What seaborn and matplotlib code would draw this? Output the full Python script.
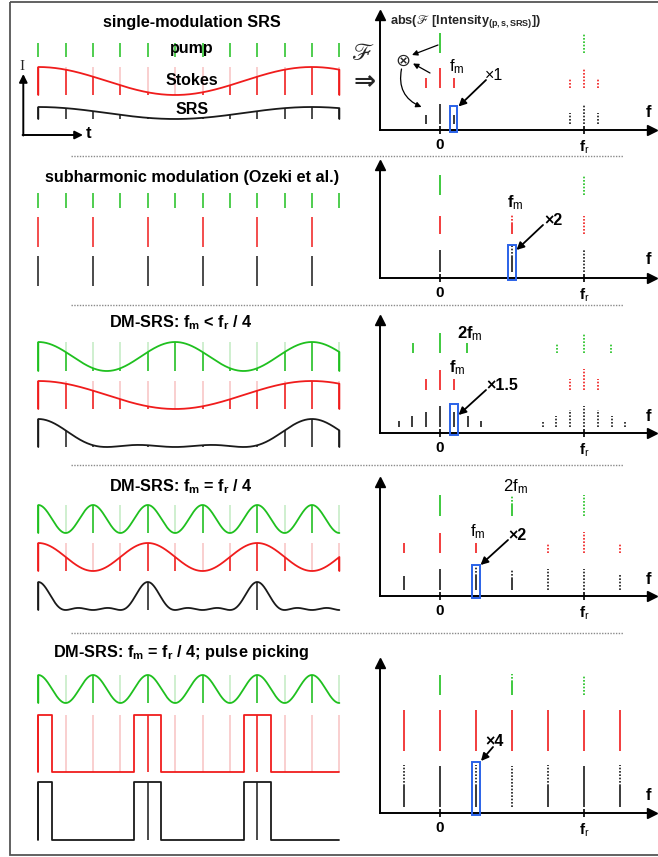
import numpy as np
import matplotlib
matplotlib.use("Agg")
import matplotlib.pyplot as plt
from matplotlib.patches import Rectangle
import seaborn as sns

sns.set_style("white")
plt.rcParams["font.family"] = ["Liberation Sans", "DejaVu Sans"]
plt.rcParams["mathtext.fontset"] = "custom"
plt.rcParams["mathtext.rm"] = "Liberation Sans"
plt.rcParams["mathtext.it"] = "Liberation Sans:italic"
plt.rcParams["mathtext.bf"] = "Liberation Sans:bold"
plt.rcParams["mathtext.fallback"] = "stix"
plt.rcParams["axes.facecolor"] = "none"

GREEN, RED, BLACK = "#1fc01f", "#f01c1c", "#1a1a1a"
GREEN_LIGHT, RED_LIGHT = "#c2ebc2", "#f8c2c2"
BLUE = "#2a62e8"

### time domain data (pulse index 0..11, envelope 0..1)
PULSES = [0, 1, 2, 3, 4, 5, 6, 7, 8, 9, 10, 11]
P2_STOKES_PULSES = [0, 2, 4, 6, 8, 10]
P1_STOKES_PERIOD = 10
P3_PUMP_PERIOD, P3_STOKES_PERIOD = 5, 10
P4_PUMP_PERIOD, P4_STOKES_PERIOD = 2, 4
P5_PUMP_PERIOD = 2
P5_PICK_WINDOWS = [(0, 0.5), (3.5, 4.5), (7.5, 8.5)]

### spectra: (frequency / f_r, solid height, dotted height)
P1_GREEN = [(0, 20, 0), (1, 0, 20)]
P1_RED = [(-0.095, 10, 0), (0, 20, 0), (0.095, 10, 0), (0.905, 0, 10), (1, 0, 20), (1.095, 0, 10)]
P1_BLACK = [(-0.095, 9, 0), (0, 20, 0), (0.095, 9, 0), (0.905, 0, 11), (1, 0, 20), (1.095, 0, 11)]

P2_GREEN = [(0, 20, 0), (1, 0, 20)]
P2_RED = [(0, 18, 0), (0.5, 10, 10), (1, 0, 18)]
P2_BLACK = [(0, 22, 0), (0.5, 15, 12), (1, 0, 22)]

P3_GREEN = [(-0.19, 10, 0), (0, 20, 0), (0.19, 10, 0), (0.81, 0, 10), (1, 0, 20), (1.19, 0, 10)]
P3_RED = [(-0.096, 11, 0), (0, 20, 0), (0.096, 11, 0), (0.904, 0, 11), (1, 0, 21), (1.096, 0, 11)]
P3_BLACK = [(-0.288, 6, 0), (-0.192, 11, 0), (-0.096, 15, 0), (0, 21, 0), (0.096, 15, 0),
            (0.192, 11, 0), (0.288, 6, 0),
            (0.712, 0, 5), (0.808, 0, 11), (0.904, 0, 17), (1, 0, 21), (1.096, 0, 17),
            (1.192, 0, 11), (1.288, 0, 6)]

P4_GREEN = [(0, 21, 0), (0.5, 11, 10), (1, 0, 21)]
P4_RED = [(-0.25, 10, 0), (0, 20, 0), (0.25, 10, 0), (0.75, 0, 10), (1, 0, 21), (1.25, 0, 10)]
P4_BLACK = [(-0.25, 14, 0), (0, 21, 0), (0.25, 14, 10), (0.5, 11, 10), (0.75, 0, 21),
            (1, 0, 21), (1.25, 0, 15)]

P5_GREEN = [(0, 20, 0), (0.5, 13, 8), (1, 0, 20)]
P5_RED = [(-0.25, 41, 0), (0, 41, 0), (0.25, 41, 0), (0.5, 41, 0), (0.75, 41, 0), (1, 41, 0), (1.25, 41, 0)]
P5_BLACK = [(-0.25, 21, 21), (0, 41, 0), (0.25, 21, 21), (0.5, 0, 41), (0.75, 21, 21),
            (1, 41, 0), (1.25, 21, 21)]

FM = [0.095, 0.5, 0.096, 0.25, 0.25]       # boxed line of each panel
BOX_TOP = [24, 33, 29, 31, 51]
GAIN = ["×1", "×2", "×1.5", "×2", "×4"]


W, H = 658, 857
fig = plt.figure(figsize=(W / 100, H / 100), dpi=100)


def px_axes(x0, y0, x1, y1):
    return fig.add_axes([x0 / W, 1 - y1 / H, (x1 - x0) / W, (y1 - y0) / H])


# pulse k sits at 38.3 + 27.37 k px
X_K0, X_K11 = 38.3, 38.3 + 11 * 27.37
T_GRID = np.linspace(0, 11, 800)


def raised_cos(period):
    return lambda k: 0.5 * (1 + np.cos(2 * np.pi * np.asarray(k, float) / period))


def picked(windows):
    def env(k):
        k = np.asarray(k, float)
        out = np.zeros_like(k)
        for a, b in windows:
            out[(k >= a) & (k <= b)] = 1.0
        return out
    return env


def product(f, g):
    return lambda k: f(k) * g(k)


def pulse_row(top, base, color, light=None, env=None, pulses=PULSES, windows=None):
    ax = px_axes(X_K0, top, X_K11, base)
    if env is None:
        ax.vlines(pulses, 0, 1, color=color, lw=1.1, clip_on=False)
    else:
        if light:
            ax.vlines(PULSES, 0, 1, color=light, lw=1.1, clip_on=False)
        ax.vlines(PULSES, 0, env(PULSES), color=color, lw=1.1, clip_on=False)
        if windows is None:
            x = np.r_[0, T_GRID, 11]
            y = np.r_[0, env(T_GRID), 0]
        else:
            x, y = [0], [0]
            for a, b in windows:
                x += [a, a, b, b]
                y += [0, 1, 1, 0]
            x.append(11)
            y.append(0)
        sns.lineplot(x=x, y=y, ax=ax, color=color, lw=1.3, sort=False, estimator=None)
    ax.set_xlim(0, 11)
    ax.set_ylim(0, 1)
    ax.axis("off")
    for ln in ax.lines:
        ln.set_clip_on(False)


F0_PX, FR_PX = 440, 144


def spectrum(top, axis_y, rows, fm, box_top):
    ax = px_axes(380, top, 652, axis_y)
    ax.set_xlim((380 - F0_PX) / FR_PX, (652 - F0_PX) / FR_PX)
    ax.set_ylim(0, axis_y - top)
    for s in ["top", "right"]:
        ax.spines[s].set_visible(False)
    for s in ["left", "bottom"]:
        ax.spines[s].set(color="black", lw=1.4)
    ax.plot(1, 0, ">", color="black", ms=7, transform=ax.transAxes, clip_on=False)
    ax.plot(0, 1, "^", color="black", ms=7, transform=ax.transAxes, clip_on=False)
    ax.set_xticks([0, 1], ["0", r"f$_\mathrm{r}$"])
    ax.set_yticks([])
    ax.tick_params(axis="x", direction="inout", length=6, width=1.2, pad=3,
                   labelsize=11, bottom=True, colors="black")
    for lab in ax.get_xticklabels():
        lab.set_fontweight("bold")
    for lines, base, color in rows:
        for f, solid, dotted in lines:
            if solid:
                ax.vlines(f, base, base + solid, color=color, lw=1.2, clip_on=False)
            if dotted:
                ax.vlines(f, base + solid, base + solid + dotted, color=color, lw=1.2,
                          linestyles=(0, (1, 1)), clip_on=False)
    ax.add_patch(Rectangle((fm - 0.026, -2), 0.052, box_top + 2, fill=False,
                           edgecolor=BLUE, lw=1.4, clip_on=False, zorder=5))
    return ax


### panel 1: single modulation
stokes1 = raised_cos(P1_STOKES_PERIOD)
pulse_row(43, 57, GREEN)
pulse_row(67, 95, RED, RED_LIGHT, stokes1)
pulse_row(107, 119, BLACK, None, stokes1)
spectrum(15, 130, [(P1_GREEN, 77, GREEN), (P1_RED, 42, RED), (P1_BLACK, 6, BLACK)], FM[0], BOX_TOP[0])

### panel 2: subharmonic modulation
pulse_row(193, 208, GREEN)
pulse_row(217, 247, RED, pulses=P2_STOKES_PULSES)
pulse_row(256, 286, BLACK, pulses=P2_STOKES_PULSES)
spectrum(165, 278, [(P2_GREEN, 83, GREEN), (P2_RED, 44, RED), (P2_BLACK, 6, BLACK)], FM[1], BOX_TOP[1])

### panel 3: DM-SRS fm < fr/4
pump3, stokes3 = raised_cos(P3_PUMP_PERIOD), raised_cos(P3_STOKES_PERIOD)
pulse_row(342, 371, GREEN, GREEN_LIGHT, pump3)
pulse_row(381, 409, RED, RED_LIGHT, stokes3)
pulse_row(419, 447, BLACK, None, product(pump3, stokes3))
spectrum(320, 433, [(P3_GREEN, 80, GREEN), (P3_RED, 43, RED), (P3_BLACK, 6, BLACK)], FM[2], BOX_TOP[2])

### panel 4: DM-SRS fm = fr/4
pump4, stokes4 = raised_cos(P4_PUMP_PERIOD), raised_cos(P4_STOKES_PERIOD)
pulse_row(505, 533, GREEN, GREEN_LIGHT, pump4)
pulse_row(543, 571, RED, RED_LIGHT, stokes4)
pulse_row(582, 610, BLACK, None, product(pump4, stokes4))
spectrum(482, 596, [(P4_GREEN, 80, GREEN), (P4_RED, 43, RED), (P4_BLACK, 6, BLACK)], FM[3], BOX_TOP[3])

### panel 5: pulse picking
pump5, pick5 = raised_cos(P5_PUMP_PERIOD), picked(P5_PICK_WINDOWS)
pulse_row(675, 703, GREEN, GREEN_LIGHT, pump5)
pulse_row(715, 772, RED, RED_LIGHT, pick5, windows=P5_PICK_WINDOWS)
pulse_row(782, 840, BLACK, None, pick5, windows=P5_PICK_WINDOWS)
spectrum(663, 813, [(P5_GREEN, 118, GREEN), (P5_RED, 62, RED), (P5_BLACK, 6, BLACK)], FM[4], BOX_TOP[4])


### overlay: frame, separators, labels, arrows (pixel coordinates)
ov = fig.add_axes([0, 0, 1, 1])
ov.set_xlim(0, W)
ov.set_ylim(H, 0)
ov.axis("off")

ov.add_patch(Rectangle((10, 2), 660, 853, fill=False, edgecolor="#555555", lw=1.3, clip_on=False))
for y in [155.5, 305, 465, 633]:
    ov.plot([71, 623], [y, y], color="#8a8a8a", lw=1.0, ls=(0, (1, 1)))

bold = dict(fontweight="bold", ha="center", va="center", color="black")
ov.text(192, 22, "single-modulation SRS", fontsize=11.7, **bold)
ov.text(192, 177, "subharmonic modulation (Ozeki et al.)", fontsize=11.7, **bold)
ov.text(181, 323, r"DM-SRS: f$_\mathbf{m}$ < f$_\mathbf{r}$ / 4", fontsize=11.7, **bold)
ov.text(181, 487, r"DM-SRS: f$_\mathbf{m}$ = f$_\mathbf{r}$ / 4", fontsize=11.7, **bold)
ov.text(181, 653, r"DM-SRS: f$_\mathbf{m}$ = f$_\mathbf{r}$ / 4; pulse picking", fontsize=11.7, **bold)

ov.text(192, 48, "pump", fontsize=11.5, **bold)
ov.text(192, 80, "Stokes", fontsize=11.5, **bold)
ov.text(192, 109, "SRS", fontsize=11.5, **bold)

# I / t axes of the time sketch
ov.annotate("", xy=(23.3, 74), xytext=(23.3, 135.5),
            arrowprops=dict(arrowstyle="-|>", lw=1.4, color="black", mutation_scale=12,
                            shrinkA=0, shrinkB=0))
ov.annotate("", xy=(83, 135), xytext=(22.6, 135),
            arrowprops=dict(arrowstyle="-|>", lw=1.4, color="black", mutation_scale=12,
                            shrinkA=0, shrinkB=0))
ov.text(22, 66, "I", fontsize=11, family="Liberation Serif", ha="center", va="center")
ov.text(89, 133, "t", fontsize=12, **bold)

# Fourier transform symbol
ov.text(363, 54, "ℱ", fontsize=17, family="STIXGeneral", ha="center", va="center")
ov.text(365, 82, "⇒", fontsize=19, family="DejaVu Sans", fontweight="bold", ha="center", va="center")

ov.text(390, 21, r"abs($ℱ$ [Intensity$_{\mathbf{(p,s,SRS)}}$])", fontsize=9.2,
        fontweight="bold", ha="left", va="center")

for y in [112, 260, 416, 579, 796]:
    ov.text(648, y, "f", fontsize=12, **bold)

# panel 1 mixing sketch
ov.text(402.5, 60.5, "⊗", fontsize=13, family="DejaVu Sans", ha="center", va="center")
small = dict(arrowstyle="-|>", lw=0.9, color="black", mutation_scale=8, shrinkA=0, shrinkB=0)
ov.annotate("", xy=(412, 55), xytext=(438, 45), arrowprops=small)
ov.annotate("", xy=(413, 63.5), xytext=(430, 73), arrowprops=small)
ov.annotate("", xy=(421.5, 107), xytext=(401.5, 69),
            arrowprops=dict(small, connectionstyle="arc3,rad=0.4"))

# line labels and gain arrows
label = dict(ha="center", va="center", color="black")
ov.text(457, 67, r"f$_\mathrm{m}$", fontsize=12, **label)
ov.text(515, 203, r"f$_\mathrm{m}$", fontsize=12, fontweight="bold", **label)
ov.text(470, 334, r"2f$_\mathrm{m}$", fontsize=12, fontweight="bold", **label)
ov.text(457.5, 368, r"f$_\mathrm{m}$", fontsize=12, fontweight="bold", **label)
ov.text(515, 487, r"2f$_\mathrm{m}$", fontsize=12, **label)
ov.text(478, 532, r"f$_\mathrm{m}$", fontsize=12, **label)

gain_pos = [(494, 75), (553, 220), (502.5, 385), (517.5, 535), (495, 741)]
gain_arrow = [((486, 80), (458.5, 106.5)), ((543, 225), (516.5, 250)),
              ((486, 390), (458.5, 415)), ((508, 540), (480.5, 565)),
              ((493, 747), (481, 761))]
for i, (txt, (tx, ty), (a, b)) in enumerate(zip(GAIN, gain_pos, gain_arrow)):
    ov.text(tx, ty, txt, fontsize=11.5, fontweight="normal" if i == 0 else "bold", **label)
    ov.annotate("", xy=b, xytext=a,
                arrowprops=dict(arrowstyle="-|>", lw=1.3, color="black", mutation_scale=11,
                                shrinkA=0, shrinkB=0))

fig.savefig("out.png", dpi=100)
